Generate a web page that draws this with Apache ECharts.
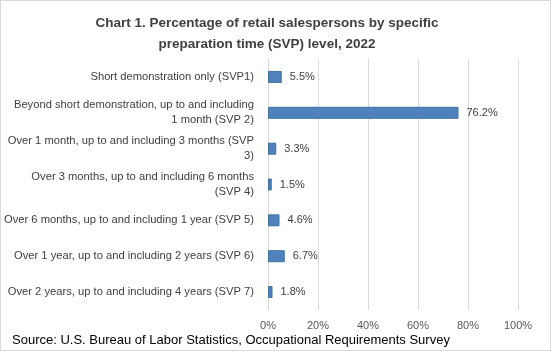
<!DOCTYPE html>
<html lang="en">
<head>
    <meta charset="UTF-8">
    <title>Chart 1</title>
    <script src="https://cdn.jsdelivr.net/npm/echarts@6/dist/echarts.min.js"></script>
    <style>
        html, body { margin: 0; padding: 0; background: #fff; }
        #main { width: 549px; height: 349px; border: 1px solid #d9d9d9; }
    </style>
</head>
<body>
<div id="main"></div>
<script>
    // categories, top to bottom
    var categories = [
        'Short demonstration only (SVP1)',
        'Beyond short demonstration, up to and including\n1 month (SVP 2)',
        'Over 1 month, up to and including 3 months (SVP\n3)',
        'Over 3 months, up to and including 6 months\n(SVP 4)',
        'Over 6 months, up to and including 1 year (SVP 5)',
        'Over 1 year, up to and including 2 years (SVP 6)',
        'Over 2 years, up to and including 4 years (SVP 7)'
    ];
    var percents = [5.5, 76.2, 3.3, 1.5, 4.6, 6.7, 1.8];

    var font = 'Liberation Sans';
    var chart = echarts.init(document.getElementById('main'));
    chart.setOption({
        animation: false,
        title: [{
            text: 'Chart 1. Percentage of retail salespersons by specific\npreparation time (SVP) level, 2022',
            left: 261,
            top: 7,
            textAlign: 'center',
            textStyle: {fontFamily: font, fontSize: 13.5, fontWeight: 'bold', color: '#404040', lineHeight: 21}
        }, {
            text: 'Source: U.S. Bureau of Labor Statistics, Occupational Requirements Survey',
            left: 6,
            top: 328,
            textStyle: {fontFamily: font, fontSize: 13, fontWeight: 'normal', color: '#000'}
        }],
        grid: {left: 267, right: 32, top: 58, height: 251, containLabel: false},
        xAxis: {
            type: 'value',
            min: 0,
            max: 100,
            interval: 20,
            axisLine: {show: false},
            axisTick: {show: false},
            splitLine: {lineStyle: {color: '#d9d9d9', width: 1}},
            axisLabel: {
                formatter: '{value}%',
                fontFamily: font, fontSize: 11, color: '#595959', margin: 10
            }
        },
        yAxis: {
            type: 'category',
            inverse: true,
            data: categories,
            axisLine: {lineStyle: {color: '#d9d9d9'}},
            axisTick: {show: false},
            axisLabel: {
                fontFamily: font, fontSize: 11.2, color: '#404040', margin: 14,
                lineHeight: 15, align: 'right'
            }
        },
        series: [{
            type: 'bar',
            data: percents,
            barWidth: 12,
            itemStyle: {color: '#4f81bd', borderColor: '#41719c', borderWidth: 1},
            label: {
                show: true,
                position: 'right',
                distance: 8,
                formatter: '{c}%',
                fontFamily: font, fontSize: 11, color: '#404040'
            }
        }]
    });
</script>
</body>
</html>
